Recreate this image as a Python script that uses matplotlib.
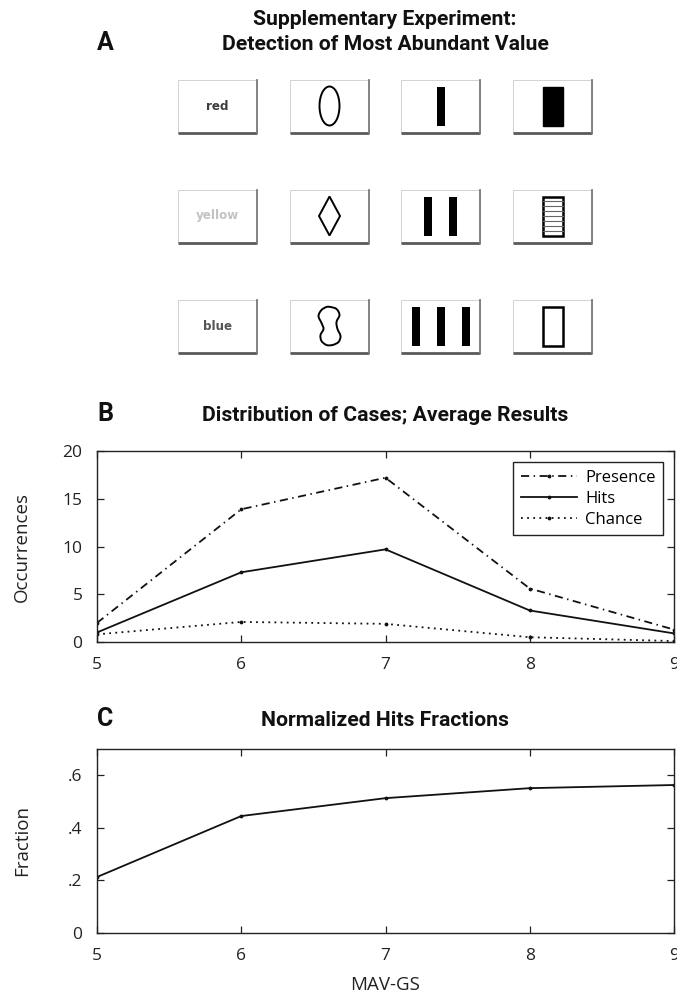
import matplotlib
matplotlib.use("Agg")
import matplotlib.pyplot as plt
from matplotlib import font_manager
from matplotlib.patches import Rectangle, Ellipse, Polygon, PathPatch
from matplotlib.path import Path
import numpy as np

# ---- data -------------------------------------------------------------
mav_gs = [5, 6, 7, 8, 9]
presence = [2.0, 13.9, 17.2, 5.6, 1.3]
hits = [1.0, 7.3, 9.7, 3.3, 0.9]
chance = [0.8, 2.1, 1.9, 0.5, 0.1]
hit_fraction = [0.213, 0.445, 0.513, 0.551, 0.563]

occ_ticks = [0, 5, 10, 15, 20]
frac_ticks = [0, 0.2, 0.4, 0.6]
frac_tick_labels = ["0", ".2", ".4", ".6"]

series_names = ["Presence", "Hits", "Chance"]
color_words = ["red", "yellow", "blue"]
word_colors = ["#3c3c3c", "#c2c2c2", "#555555"]
bar_counts = [1, 2, 3]

# ---- fonts ------------------------------------------------------------
installed = {f.name for f in font_manager.fontManager.ttflist}


def pick(*names):
    for n in names:
        if n in installed:
            return n
    return "DejaVu Sans"


BOLD = pick("Roboto", "Open Sans")
REG = pick("Open Sans", "Lato")
plt.rcParams["font.family"] = [REG, "DejaVu Sans"]

W, H = 677, 1001
fig = plt.figure(figsize=(W / 100, H / 100), dpi=100)


def fx(x):
    return x / W


def fy(y):
    return 1 - y / H


def axes_rect(left, right, top, bottom):
    return [fx(left), fy(bottom), (right - left) / W, (bottom - top) / H]


# ---- panel A: stimulus cards drawn in pixel space ----------------------
ax_a = fig.add_axes([0, 0, 1, 1], zorder=0)
ax_a.set_xlim(0, W)
ax_a.set_ylim(H, 0)
ax_a.axis("off")
ax_a.patch.set_visible(False)

col_left = [178, 290, 401, 513]
row_top = [80, 190, 300]
card_w, card_h = 79, 53


def card(x0, y0):
    ax_a.add_patch(Rectangle((x0, y0), card_w, card_h, facecolor="white",
                             edgecolor="#d2d2d2", lw=0.7))
    ax_a.plot([x0, x0 + card_w], [y0 + card_h, y0 + card_h], color="#5a5a5a", lw=2.0,
              solid_capstyle="butt")
    ax_a.plot([x0 + card_w, x0 + card_w], [y0, y0 + card_h], color="#7a7a7a", lw=1.3)


def smooth_closed(points):
    pts = np.asarray(points, float)
    n = len(pts)
    verts = [pts[0]]
    codes = [Path.MOVETO]
    for i in range(n):
        p0, p1, p2, p3 = pts[i - 1], pts[i], pts[(i + 1) % n], pts[(i + 2) % n]
        c1 = p1 + (p2 - p0) / 6
        c2 = p2 - (p3 - p1) / 6
        verts += [c1, c2, p2]
        codes += [Path.CURVE4] * 3
    return Path(verts, codes)


squiggle_outline = [(1, -19), (7, -17), (10, -11), (7, -4), (8, 3), (11, 10), (9, 16),
                    (3, 19), (-3, 19), (-8, 15), (-9, 9), (-6, 3), (-8, -3), (-11, -10),
                    (-8, -16), (-3, -19)]

for r, y0 in enumerate(row_top):
    for c, x0 in enumerate(col_left):
        card(x0, y0)
    cy = y0 + card_h / 2 - 0.5
    # colour word
    ax_a.text(col_left[0] + card_w / 2, cy, color_words[r], ha="center", va="center",
              fontsize=8.6, fontweight="bold", color=word_colors[r], family="DejaVu Sans")
    # shape
    sx = col_left[1] + card_w / 2
    if r == 0:
        ax_a.add_patch(Ellipse((sx, cy), 20, 39, facecolor="white", edgecolor="black", lw=1.4))
    elif r == 1:
        ax_a.add_patch(Polygon([(sx, cy - 19.5), (sx + 10.5, cy), (sx, cy + 19.5), (sx - 10.5, cy)],
                               closed=True, facecolor="white", edgecolor="black", lw=1.4))
    else:
        pts = [(sx + dx, cy + dy) for dx, dy in squiggle_outline]
        ax_a.add_patch(PathPatch(smooth_closed(pts), facecolor="white", edgecolor="black", lw=1.4))
    # number of bars
    bx = col_left[2] + card_w / 2
    n = bar_counts[r]
    offsets = (np.arange(n) - (n - 1) / 2) * 25
    for off in offsets:
        ax_a.add_patch(Rectangle((bx + off - 4, cy - 19.5), 8, 39, facecolor="black", edgecolor="none"))
    # fill pattern
    fx0 = col_left[3] + card_w / 2 - 10
    if r == 0:
        ax_a.add_patch(Rectangle((fx0, cy - 19.5), 20, 39, facecolor="black", edgecolor="black", lw=1))
    elif r == 1:
        ax_a.add_patch(Rectangle((fx0, cy - 19.5), 20, 39, facecolor="white", edgecolor="black", lw=1.8))
        for k in range(1, 8):
            yy = cy - 19.5 + k * 39 / 8
            ax_a.plot([fx0, fx0 + 20], [yy, yy], color="#666666", lw=0.8)
    else:
        ax_a.add_patch(Rectangle((fx0, cy - 19.5), 20, 39, facecolor="white", edgecolor="black", lw=1.8))

# ---- headings ---------------------------------------------------------
title_kw = dict(ha="center", va="baseline", fontweight="bold", family=[BOLD, "DejaVu Sans"],
                fontsize=15.2, color="#111111")
letter_kw = dict(ha="center", va="baseline", fontweight="bold", family=[BOLD, "DejaVu Sans"],
                 fontsize=18, color="#111111")
fig.text(fx(385), fy(25), "Supplementary Experiment:", **title_kw)
fig.text(fx(385), fy(50), "Detection of Most Abundant Value", **title_kw)
fig.text(fx(105), fy(50), "A", **letter_kw)
fig.text(fx(385), fy(421), "Distribution of Cases; Average Results", **title_kw)
fig.text(fx(105), fy(421), "B", **letter_kw)
fig.text(fx(385), fy(726), "Normalized Hits Fractions", **title_kw)
fig.text(fx(105), fy(726), "C", **letter_kw)

AX_L, AX_R = 97, 674


def style_axes(ax):
    for s in ax.spines.values():
        s.set_color("#222222")
        s.set_linewidth(1.0)
    ax.tick_params(direction="in", length=5, width=0.9, top=True, right=True,
                   labelsize=12.5, colors="#222222", pad=10.5)
    ax.set_xlim(5, 9)
    ax.set_xticks(mav_gs)


def place_ylabel(ax, text, x_px):
    lab = ax.set_ylabel(text, fontsize=13.5, color="#222222")
    lab.set_verticalalignment("center")
    lab.set_rotation_mode("anchor")
    ax.yaxis.set_label_coords((x_px - AX_L) / (AX_R - AX_L), 0.5)


line_kw = dict(color="#111111", lw=1.3, marker=".", markersize=3.5)

# ---- panel B ----------------------------------------------------------
B_TOP, B_BOT = 451, 642
ax_b = fig.add_axes(axes_rect(AX_L, AX_R, B_TOP, B_BOT), zorder=2)
ax_b.plot(mav_gs, presence, linestyle=(0, (4.5, 2.5, 0.8, 2.5)), label=series_names[0], **line_kw)
ax_b.plot(mav_gs, hits, linestyle="-", label=series_names[1], **line_kw)
ax_b.plot(mav_gs, chance, linestyle=(0, (1, 2.4)), label=series_names[2], **line_kw)
ax_b.set_ylim(0, 20)
ax_b.set_yticks(occ_ticks)
style_axes(ax_b)
place_ylabel(ax_b, "Occurrences", 22)
leg = ax_b.legend(loc="upper right",
                  bbox_to_anchor=((663 - AX_L) / (AX_R - AX_L), (B_BOT - 462) / (B_BOT - B_TOP)),
                  borderaxespad=0, fancybox=False, framealpha=1, edgecolor="#222222",
                  fontsize=12, handlelength=3.4, handletextpad=0.45, labelspacing=0.3,
                  borderpad=0.45)
leg.get_frame().set_linewidth(1.0)

# ---- panel C ----------------------------------------------------------
C_TOP, C_BOT = 749, 933
ax_c = fig.add_axes(axes_rect(AX_L, AX_R, C_TOP, C_BOT), zorder=2)
ax_c.plot(mav_gs, hit_fraction, linestyle="-", **line_kw)
ax_c.set_ylim(0, 0.7)
ax_c.set_yticks(frac_ticks)
ax_c.set_yticklabels(frac_tick_labels)
style_axes(ax_c)
place_ylabel(ax_c, "Fraction", 22)
xl = ax_c.set_xlabel("MAV-GS", fontsize=13.5, color="#222222")
xl.set_verticalalignment("center")
ax_c.xaxis.set_label_coords(0.5, (C_BOT - 985) / (C_BOT - C_TOP))

fig.savefig("out.png", dpi=100)
